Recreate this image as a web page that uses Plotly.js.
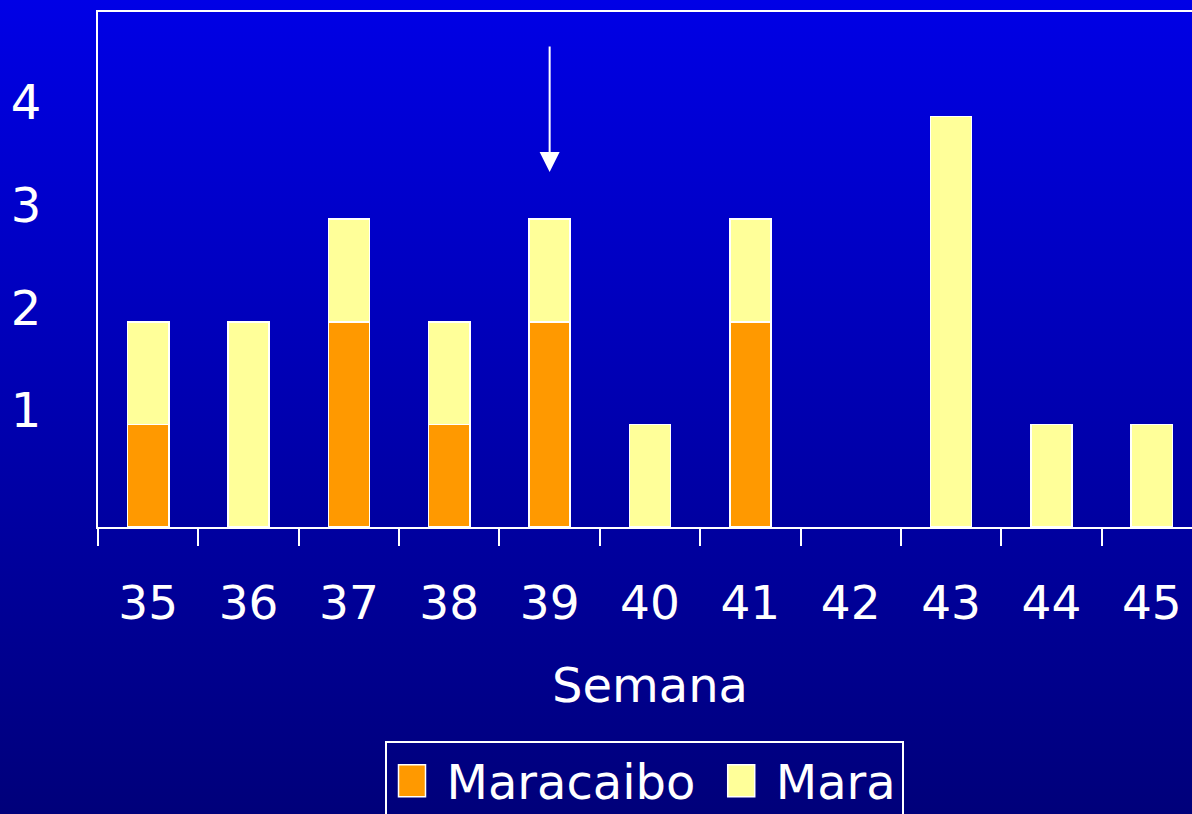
<!DOCTYPE html>
<html>
<head>
<meta charset="utf-8">
<script src="https://cdn.plot.ly/plotly-3.0.1.min.js"></script>
<style>
  html, body { margin: 0; padding: 0; width: 1192px; height: 814px; overflow: hidden;
    background: linear-gradient(to bottom, #0000e6 0%, #0000b0 50%, #00007a 100%); }
  #chart { width: 1210px; height: 814px; }
</style>
</head>
<body>
<div id="chart"></div>
<script>
const weeks = ['35', '36', '37', '38', '39', '40', '41', '42', '43', '44', '45'];
const maracaibo = [1, 0, 2, 1, 2, 0, 2, 0, 0, 0, 0];
const mara = [1, 2, 1, 1, 1, 1, 1, 0, 4, 1, 1];
const seriesNames = ['Maracaibo', 'Mara'];
const yTicks = [1, 2, 3, 4];
const arrowWeek = '39';
const arrowTipValue = 3.46;

const FONT = 'DejaVu Sans, Verdana, sans-serif';
const outline = function (vals) { return vals.map(function (v) { return v > 0 ? 1.5 : 0; }); };

const traces = [
  { type: 'bar', name: seriesNames[0] + '\u00a0', x: weeks, y: maracaibo,
    marker: { color: '#FF9900', line: { color: '#ffffff', width: outline(maracaibo) } } },
  { type: 'bar', name: seriesNames[1], x: weeks, y: mara,
    marker: { color: '#FFFF99', line: { color: '#ffffff', width: outline(mara) } } }
];

const layout = {
  width: 1210, height: 814,
  margin: { l: 98, r: 8, t: 12, b: 287 },
  paper_bgcolor: 'rgba(0,0,0,0)',
  plot_bgcolor: 'rgba(0,0,0,0)',
  barmode: 'stack',
  bargap: 0.59,
  showlegend: true,
  font: { family: FONT, color: '#ffffff' },
  xaxis: {
    type: 'category',
    range: [-0.5, weeks.length - 0.5],
    tickangle: 0,
    showline: true, linecolor: '#ffffff', linewidth: 2, mirror: true,
    ticks: 'outside', tickson: 'boundaries', ticklen: 17, tickwidth: 2, tickcolor: '#ffffff',
    tickfont: { family: FONT, size: 47, color: '#ffffff' },
    ticklabelstandoff: 34,
    showgrid: false, zeroline: false,
    title: { text: 'Semana', font: { family: FONT, size: 48, color: '#ffffff' }, standoff: 39 }
  },
  yaxis: {
    range: [0, 5.02],
    tickvals: yTicks,
    ticks: '',
    showline: true, linecolor: '#ffffff', linewidth: 2,
    showgrid: false, zeroline: false,
    tickfont: { family: FONT, size: 48, color: '#ffffff' },
    ticklabelshift: -14,
    ticklabelstandoff: 45
  },
  legend: {
    orientation: 'h',
    xref: 'container', yref: 'container',
    x: 644 / 1210, xanchor: 'center',
    y: 1 - 741 / 814, yanchor: 'top',
    bgcolor: 'rgba(0,0,0,0)',
    bordercolor: '#ffffff', borderwidth: 2,
    indentation: 20,
    font: { family: FONT, size: 48, color: '#ffffff' },
    traceorder: 'normal'
  },
  annotations: [{
    x: weeks.indexOf(arrowWeek), y: arrowTipValue, xref: 'x', yref: 'y',
    text: '', showarrow: true, ax: 0, ay: -127,
    arrowhead: 2, arrowsize: 2, arrowwidth: 2, arrowcolor: '#ffffff'
  }]
};

Plotly.newPlot('chart', traces, layout, { displayModeBar: false, staticPlot: true }).then(function (gd) {
  document.querySelectorAll('#chart .legend .legendpoints path').forEach(function (p) {
    p.setAttribute('d', 'M-1,16H-28V-16H-1Z');
  });
});
</script>
</body>
</html>
